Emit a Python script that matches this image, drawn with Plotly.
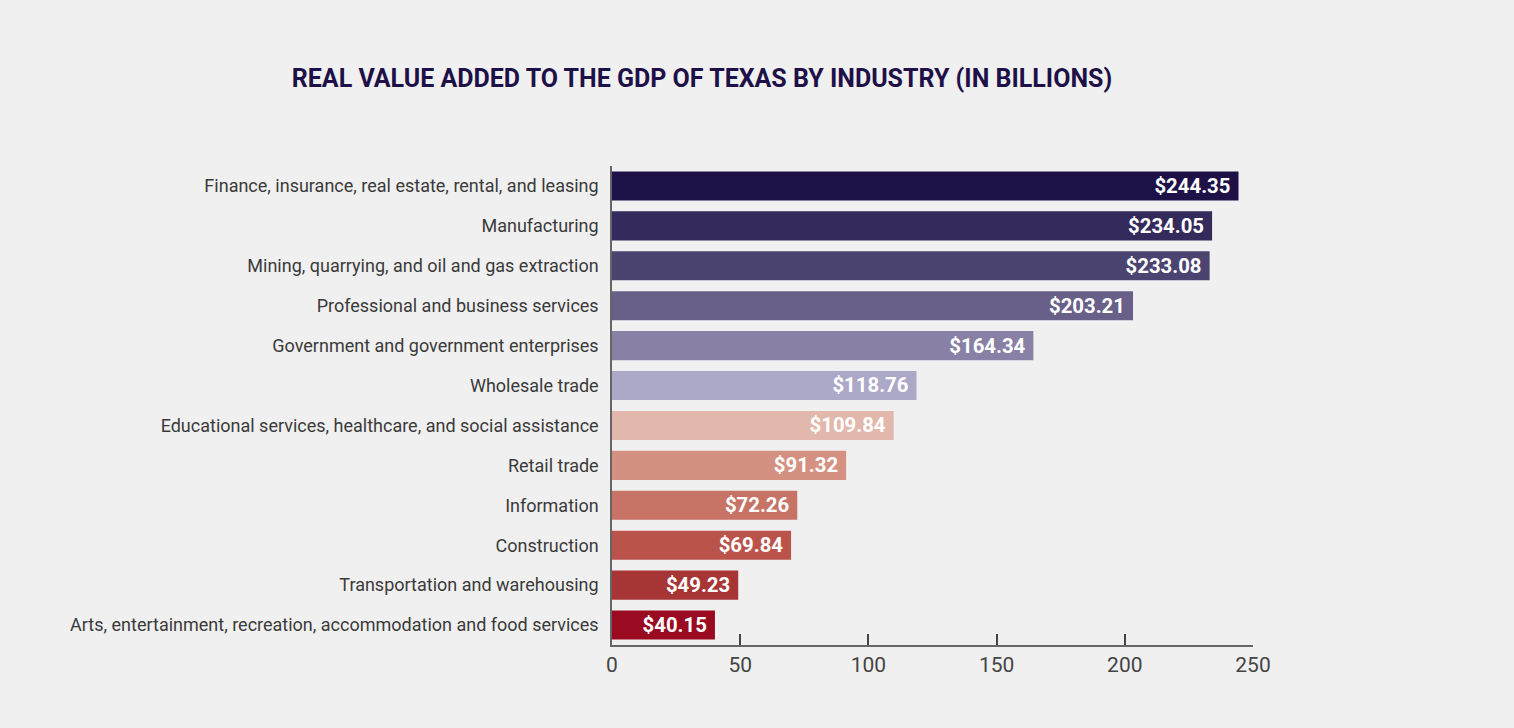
import plotly.graph_objects as go

industries = [
    "Finance, insurance, real estate, rental, and leasing",
    "Manufacturing",
    "Mining, quarrying, and oil and gas extraction",
    "Professional and business services",
    "Government and government enterprises",
    "Wholesale trade",
    "Educational services, healthcare, and social assistance",
    "Retail trade",
    "Information",
    "Construction",
    "Transportation and warehousing",
    "Arts, entertainment, recreation, accommodation and food services",
]
values = [244.35, 234.05, 233.08, 203.21, 164.34, 118.76, 109.84, 91.32, 72.26, 69.84, 49.23, 40.15]
bar_colors = ["#1E1148", "#352A5C", "#4B4470", "#686088", "#8880A5", "#ACA8C8",
              "#E3B8AC", "#D49182", "#C77467", "#BA544B", "#A73535", "#9A0A20"]
x_ticks = [0, 50, 100, 150, 200, 250]

labels = ["$%.2f\u00a0" % v for v in values]

fig = go.Figure(go.Bar(
    x=values,
    y=industries,
    orientation="h",
    marker=dict(color=bar_colors, line=dict(width=0)),
    width=0.73,
    text=labels,
    textposition="inside",
    insidetextanchor="end",
    textangle=0,
    textfont=dict(family="Roboto", size=22, color="white", weight="bold"),
    cliponaxis=False,
))

fig.update_layout(
    width=1514, height=728,
    paper_bgcolor="#F0F0F0", plot_bgcolor="#F0F0F0",
    margin=dict(l=612, r=261, t=166, b=83),
    showlegend=False,
    title=dict(text="<b>REAL VALUE ADDED TO THE GDP OF TEXAS BY INDUSTRY (IN BILLIONS)</b>",
               x=702 / 1514, xanchor="center", y=1 - 78 / 728, yanchor="middle",
               font=dict(family="Roboto", size=25, color="#1E1148")),
    uniformtext=dict(mode=False),
)
fig.update_yaxes(
    categoryorder="array", categoryarray=industries, autorange="reversed",
    showline=True, linecolor="#666666", linewidth=1.5,
    ticks="", ticklabelstandoff=8,
    tickfont=dict(family="Roboto", size=18, color="#3A3A3A"),
    showgrid=False,
)
fig.update_xaxes(
    range=[0, 250], tickvals=x_ticks,
    showline=True, linecolor="#666666", linewidth=1.5,
    ticks="inside", ticklen=11, tickcolor="#444444", tickwidth=1.5,
    tickfont=dict(family="Roboto", size=21, color="#444444"),
    showgrid=False, zeroline=False,
)

fig.write_html("out.html", config={"displayModeBar": False},
               post_script="document.body.style.margin='0';document.body.style.overflow='hidden';")
